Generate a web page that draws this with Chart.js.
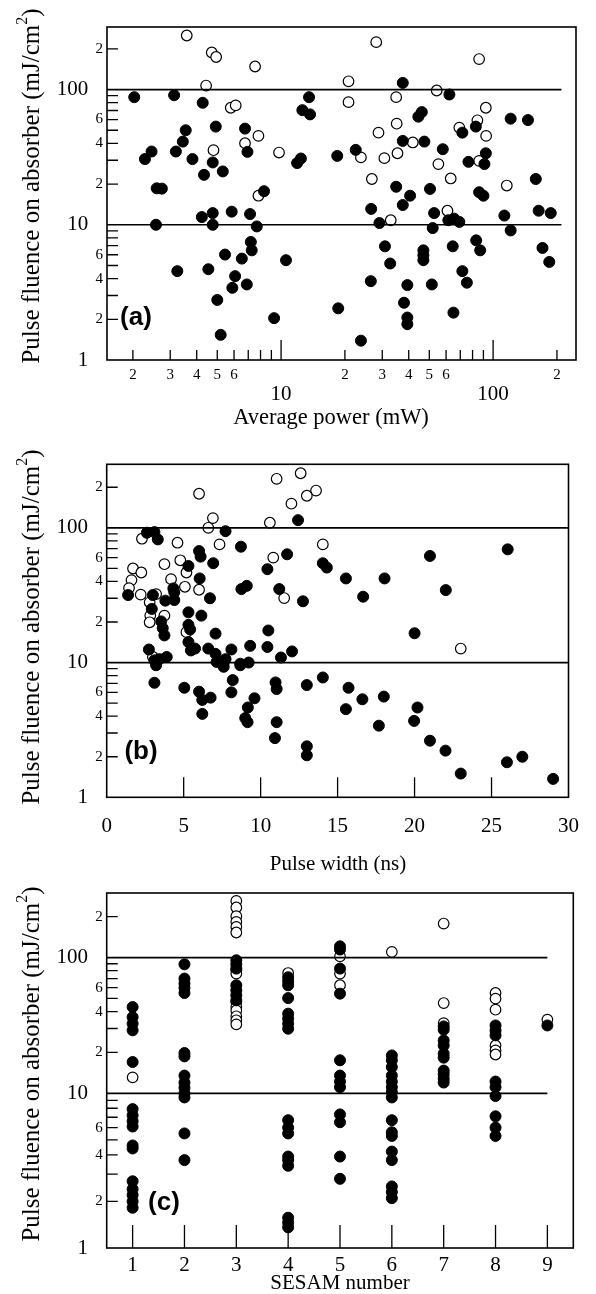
<!DOCTYPE html>
<html><head><meta charset="utf-8">
<script src="https://cdn.jsdelivr.net/npm/chart.js@4.4.1/dist/chart.umd.min.js"></script>
<style>
html,body{margin:0;padding:0;background:#fff;}
body{width:596px;height:1294px;position:relative;overflow:hidden;}
canvas{position:absolute;left:0;}
.lab{position:absolute;font:bold 26px 'Liberation Sans',Arial,sans-serif;color:#000;transform:translate(-50%,-50%);white-space:nowrap;line-height:1;}
.xt{position:absolute;font:21px 'Liberation Serif','Times New Roman',serif;color:#000;transform:translate(-50%,-50%);white-space:nowrap;line-height:1;}
.yt{position:absolute;font:25px 'Liberation Serif','Times New Roman',serif;color:#000;transform:translate(-50%,-50%) rotate(-90deg);white-space:nowrap;line-height:1;}
.yt sup{font-size:16px;vertical-align:0;position:relative;top:-12px;}
</style></head><body>
<canvas id="ca" width="596" height="440" style="top:0;width:596px;height:440px"></canvas>
<canvas id="cb" width="596" height="437" style="top:440px;width:596px;height:437px"></canvas>
<canvas id="cc" width="596" height="424" style="top:870px;width:596px;height:424px"></canvas>
<div class="lab" style="left:136px;top:316px">(a)</div>
<div class="lab" style="left:141px;top:750px">(b)</div>
<div class="lab" style="left:164px;top:1201px">(c)</div>
<div class="xt" style="left:331px;top:417px;font-size:22.5px">Average power (mW)</div>
<div class="xt" style="left:338px;top:863px">Pulse width (ns)</div>
<div class="xt" style="left:340px;top:1282px">SESAM number</div>
<div class="yt" style="left:30px;top:186px">Pulse fluence on absorber (mJ/cm<sup>2</sup>)</div>
<div class="yt" style="left:30px;top:627px">Pulse fluence on absorber (mJ/cm<sup>2</sup>)</div>
<div class="yt" style="left:30px;top:1064px">Pulse fluence on absorber (mJ/cm<sup>2</sup>)</div>
<script>
// ---------- DATA ----------
const yTickValues = [1,2,4,6,10,20,40,60,100,200];
const yTickLabels = ['1','2','4','6','10','2','4','6','100','2'];
const yBigTicks = [1,10,100];
const yMarkValues = [2,3,4,5,6,7,8,9,20,30,40,50,60,70,80,90,200];
const refLevels = [10,100];

// (a) average power (mW)
const powerTickValues = [2,3,4,5,6,10,20,30,40,50,60,100,200];
const powerTickLabels = ['2','3','4','5','6','10','2','3','4','5','6','100','2'];
const powerBigTicks = [10,100];
const powerMarkValues = [2,3,4,5,6,7,8,9,10,20,30,40,50,60,70,80,90,100,200];
const powerFilled = [
 [2.03,87.8],[3.13,90.8],[4.27,79.8],[13.55,87.8],[12.6,70.4],[13.7,65.5],[3.55,50],[4.92,53.2],[6.76,51.4],
 [3.44,41.2],[2.45,34.8],[2.28,30.6],[3.19,34.8],[3.82,30.6],[6.94,34.6],[4.76,28.9],[4.33,23.4],[5.31,24.8],
 [11.9,28.6],[12.4,30.9],[18.4,32.3],[2.59,18.6],[2.74,18.5],[8.31,17.7],
 [37.5,112],[62.2,91.9],[46.1,68.1],[44.4,63.0],[121,60.9],[146,59.5],[82.9,53.2],[71.6,48],[37.5,41.7],
 [47.4,41.2],[22.5,35.8],[57.9,36.2],[92.4,33.8],[76.5,29.2],[91,28.1],[159,21.8],[34.9,19.1],[40.6,16.4],
 [50.4,18.4],[85.9,17.4],[90,16.4],
 [2.57,10],[4.23,11.4],[4.76,12.2],[4.76,10],[5.85,12.5],[7.14,12.0],[7.68,9.72],[7.20,7.46],[7.27,6.47],
 [5.44,6.02],[6.53,5.62],[10.55,5.47],[3.24,4.54],[4.54,4.69],[6.07,4.17],[5.89,3.42],[6.89,3.62],[5.0,2.78],
 [9.27,2.04],[5.19,1.535],[18.6,2.41],
 [26.6,13.1],[37.5,14.0],[29.1,10.3],[52.7,12.2],[51.9,9.45],[61.5,10.8],[65.5,11.1],[69.3,10.5],[113,11.7],
 [121,9.08],[164,12.7],[187,12.2],[30.9,6.93],[32.7,5.17],[46.9,6.47],[46.9,5.95],[46.9,5.47],[64.5,6.93],
 [83.2,7.67],[86.9,6.47],[171,6.74],[184,5.31],[26.5,3.83],[39.4,3.58],[51.4,3.62],[71.6,4.54],[75.2,3.73],
 [38.0,2.65],[39.4,2.06],[39.4,1.84],[65.0,2.24],[23.8,1.39]
];
const powerOpen = [
 [3.59,251],[4.71,188],[4.94,174],[7.54,148],[4.43,107],[5.79,73.3],[6.11,76.3],[4.80,35.6],[6.76,40.1],
 [7.82,45.4],[9.78,34.2],[7.82,16.4],
 [28.1,224],[85.9,168],[20.8,115],[54.2,98.4],[20.8,80.7],[34.9,87.8],[92.4,73.3],[84.3,59.2],[69.3,52.3],
 [92.7,45.4],[35.1,55.9],[28.8,48],[41.8,40.6],[35.4,33.8],[23.8,31.5],[30.7,31.1],[85.9,29.7],[55.2,28.1],
 [63.1,22.0],[26.8,21.8],[116,19.5],[32.9,10.8],[60.9,12.7]
];

// (b) pulse width (ns)
const widthTickValues = [0,5,10,15,20,25,30];
const widthTickLabels = ['0','5','10','15','20','25','30'];
const widthMarkValues = [5,10,15,20,25];
const widthFilled = [
 [12.43,114],[7.72,94.4],[2.61,91.9],[3.1,92.9],[3.32,82.0],[8.72,72.4],[6.0,67.2],[6.1,61.1],[11.72,63.6],
 [6.92,54.6],[5.31,52.1],[14.04,54.6],[14.3,50.7],[10.44,49.3],[6.04,42.1],[9.1,37.1],[8.75,35.1],[11.21,35.1],
 [4.33,35.5],[4.39,33.2],[1.39,31.7],[3.0,31.7],[3.81,28.8],[4.39,29.1],[6.71,30.0],[12.75,28.5],[2.93,25.0],
 [5.31,23.6],[6.15,22.3],[3.54,20.2],[3.64,18.0],[3.75,15.9],[5.31,19.05],[5.42,17.6],[7.07,16.4],[10.5,17.3],
 [2.74,12.5],[5.31,14.2],[5.47,12.3],[5.74,12.7],[6.6,12.7],[8.1,12.5],[9.32,13.3],[10.44,13.05],[12.04,12.1],
 [11.32,10.9],[3.1,10.4],[3.43,10.6],[3.9,11.0],[7.07,11.6],[7.14,10.1],[7.72,10.6],[7.6,10],[8.68,9.8],
 [9.22,10],[3.21,9.55],[7.6,9.3],[8.68,9.55],
 [3.1,7.08],[5.04,6.5],[6.0,6.08],[6.21,5.28],[6.75,5.49],[6.21,4.16],[8.19,7.41],[8.1,6.01],[9.6,5.43],
 [9.17,4.64],[9.0,3.87],[9.15,3.61],[10.97,7.12],[11.04,6.36],[11.04,3.61],[10.93,2.75],[13.0,6.81],[14.04,7.75],
 [13.0,2.39],[13.0,2.05],
 [21.0,61.8],[26.05,69.2],[15.54,42.1],[18.05,42.1],[16.66,30.8],[22.03,34.5],[20.0,16.5],
 [15.71,6.5],[15.54,4.51],[16.61,5.34],[18.0,5.59],[17.68,3.40],[20.19,4.64],[19.97,3.69],[21.0,2.63],
 [22.01,2.22],[23.0,1.50],[26.0,1.82],[27.0,2.0],[29.0,1.37]
];
const widthOpen = [
 [6.0,179],[11.04,231],[12.6,254],[13.6,189],[13.0,173],[12.0,151],[10.6,109],[6.9,118],[6.6,100],[2.29,83],
 [4.6,77.5],[7.33,75.3],[14.04,75.3],[10.82,60.1],[4.78,57.4],[3.75,53.7],[5.18,46.6],[1.71,49.9],[2.25,46.6],
 [1.61,40.9],[1.45,35.7],[4.18,41.6],[5.08,36.5],[6.0,34.7],[2.21,31.9],[3.21,32.2],[2.79,28.0],[11.53,30.1],
 [2.83,22.3],[3.75,22.3],[2.79,19.9],[5.18,16.8],[3.0,11.0],[23.0,12.7]
];

// (c) SESAM number
const sesamTickValues = [1,2,3,4,5,6,7,8,9];
const sesamTickLabels = ['1','2','3','4','5','6','7','8','9'];
const sesamFilled = [
 [1,43.2],[1,36.4],[1,32.6],[1,29.1],[1,17.0],[1,7.9],[1,7.2],[1,6.6],[1,6.1],[1,4.6],[1,4.4],[1,2.7],[1,2.4],[1,2.2],[1,2.0],[1,1.82],
 [2,89.2],[2,70.0],[2,64.3],[2,59.7],[2,54.8],[2,19.8],[2,18.7],[2,13.5],[2,12.0],[2,11.0],[2,10.0],[2,9.4],[2,5.5],[2,3.7],
 [3,95.5],[3,89.2],[3,82.9],[3,62.5],[3,57.4],[3,52.7],[3,48.4],
 [4,71.6],[4,66.8],[4,62.5],[4,50.3],[4,38.6],[4,35.5],[4,32.6],[4,29.9],[4,6.7],[4,6.0],[4,5.5],[4,3.9],[4,3.7],[4,3.4],[4,1.57],[4,1.46],[4,1.36],
 [5,121],[5,114.6],[5,82.9],[5,54.2],[5,17.5],[5,13.5],[5,12.2],[5,11.1],[5,7.3],[5,6.5],[5,3.9],[5,2.8],
 [6,19.0],[6,17.5],[6,15.6],[6,13.5],[6,12.2],[6,11.1],[6,10.2],[6,9.4],[6,6.7],[6,5.6],[6,5.3],[6,4.2],[6,3.7],[6,2.5],[6,2.3],[6,2.1],
 [7,31.1],[7,29.4],[7,24.5],[7,22.5],[7,19.6],[7,18.3],[7,14.7],[7,13.8],[7,12.8],[7,12.0],
 [8,31.6],[8,29.0],[8,26.7],[8,12.2],[8,11.1],[8,9.6],[8,7.1],[8,6.0],[8,5.3],
 [9,31.6]
];
const sesamOpen = [
 [1,13.1],
 [3,261.6],[3,233.9],[3,201.8],[3,183.2],[3,168.3],[3,153],[3,80.6],[3,76.2],[3,47.0],[3,43.2],[3,40.8],[3,36.9],[3,34.5],[3,32.2],
 [4,76.9],
 [5,102],[5,76.2],[5,62.5],
 [6,110],
 [7,178],[7,46.2],[7,32.9],
 [8,54.8],[8,49.8],[8,41.3],[8,22.5],[8,20.7],[8,19.3],
 [9,34.9]
];

// ---------- STYLE / HELPERS ----------
const SERIF = "'Liberation Serif','Times New Roman',serif";
const bigFont = {family: SERIF, size: 21, lineHeight: 1.2};
const smallFont = {family: SERIF, size: 15, lineHeight: 1.2};
const PAD_BIG = '\u2002\u2009';

// log axis whose first decade (1..10) is drawn with a different length than the others (panel c)
class SplitLogScale extends Chart.LogarithmicScale {
  _pos(v) {
    const w = this.options.firstDecadeWeight || 1;
    const lo = Math.log10(this.min), hi = Math.log10(this.max);
    const t = Math.log10(v);
    const f = t <= 1 ? (t - lo) * w : (1 - lo) * w + (t - 1);
    const total = (1 - lo) * w + (hi - 1);
    return f / total;
  }
  getPixelForValue(value) {
    if (value === undefined || value === null || value <= 0) value = this.min;
    return this.getPixelForDecimal(this._pos(value));
  }
  getValueForPixel(pixel) {
    const d = this.getDecimalForPixel(pixel);
    const w = this.options.firstDecadeWeight || 1;
    const lo = Math.log10(this.min), hi = Math.log10(this.max);
    const total = (1 - lo) * w + (hi - 1);
    const f = d * total;
    const first = (1 - lo) * w;
    const t = f <= first ? lo + f / w : 1 + (f - first);
    return Math.pow(10, t);
  }
}
SplitLogScale.id = 'splitLogarithmic';
SplitLogScale.defaults = Chart.LogarithmicScale.defaults;
Chart.register(SplitLogScale);

const toPts = arr => arr.map(([x, y]) => ({x, y}));

const framePlugin = {
  id: 'frame',
  afterDraw(chart, args, o) {
    const {ctx, chartArea: a, scales: {x, y}} = chart;
    ctx.save();
    ctx.strokeStyle = '#000';
    ctx.lineWidth = 1.3;
    ctx.beginPath();
    for (const v of o.yMarks) {
      const p = y.getPixelForValue(v);
      ctx.moveTo(a.left, p); ctx.lineTo(a.left + o.yLen, p);
    }
    for (const v of o.xMarks) {
      const p = x.getPixelForValue(v);
      const len = (o.xLong || []).includes(v) ? o.xLongLen : o.xLen;
      ctx.moveTo(p, a.bottom); ctx.lineTo(p, a.bottom - len);
    }
    ctx.stroke();
    ctx.lineWidth = 1.6;
    ctx.strokeRect(a.left, a.top, a.right - a.left, a.bottom - a.top);
    ctx.restore();
  }
};

function yAxis(chartLeft, ymax, type, weight) {
  return {
    type: type || 'logarithmic', min: 1, max: ymax, firstDecadeWeight: weight || 1,
    afterBuildTicks: s => { s.ticks = yTickValues.map(v => ({value: v})); },
    afterFit: s => { s.width = chartLeft; },
    ticks: {
      autoSkip: false, padding: 4, color: '#000',
      callback: (v, i) => yBigTicks.includes(yTickValues[i]) ? yTickLabels[i] + PAD_BIG : yTickLabels[i],
      font: c => (c.tick && yBigTicks.includes(c.tick.value)) ? bigFont : smallFont
    },
    grid: {display: false, drawTicks: false},
    border: {display: false},
    title: {display: false}
  };
}

function datasets(filled, open, span) {
  const ds = [
    {type: 'scatter', data: toPts(filled), backgroundColor: '#000', borderColor: '#000', borderWidth: 1, pointRadius: 5.5, order: 1},
    {type: 'scatter', data: toPts(open), backgroundColor: '#fff', borderColor: '#000', borderWidth: 1.2, pointRadius: 5.3, order: 2}
  ];
  for (const lv of refLevels) {
    ds.push({type: 'line', data: span.map(x => ({x, y: lv})), borderColor: '#000', borderWidth: 1.7, pointRadius: 0, showLine: true, fill: false, order: 0});
  }
  return ds;
}

function baseOptions(pad, scales, frame) {
  return {
    responsive: false, animation: false, devicePixelRatio: 1,
    layout: {padding: pad},
    plugins: {legend: {display: false}, tooltip: {enabled: false}, frame},
    scales
  };
}

// ---------- (a) ----------
new Chart(document.getElementById('ca'), {
  type: 'scatter',
  data: {datasets: datasets(powerFilled, powerOpen, [1.51, 210])},
  plugins: [framePlugin],
  options: baseOptions({top: 27, right: 20, left: 0, bottom: 0}, {
    x: {
      type: 'logarithmic', min: 1.51, max: 246,
      afterBuildTicks: s => { s.ticks = powerTickValues.map(v => ({value: v})); },
      afterFit: s => { s.height = 440 - 360; },
      ticks: {
        autoSkip: false, maxRotation: 0, minRotation: 0, padding: 6, color: '#000',
        callback: (v, i) => powerBigTicks.includes(powerTickValues[i]) ? ['', powerTickLabels[i]] : powerTickLabels[i],
        font: c => (c.tick && powerBigTicks.includes(c.tick.value)) ? {family: SERIF, size: 21, lineHeight: 0.92} : smallFont
      },
      grid: {display: false, drawTicks: false},
      border: {display: false},
      title: {display: false}
    },
    y: yAxis(107, 290)
  }, {yMarks: yMarkValues, yLen: 11, xMarks: powerMarkValues, xLen: 10, xLong: powerBigTicks, xLongLen: 20})
});

// ---------- (b) ----------
new Chart(document.getElementById('cb'), {
  type: 'scatter',
  data: {datasets: datasets(widthFilled, widthOpen, [0, 30])},
  plugins: [framePlugin],
  options: baseOptions({top: 24.3, right: 22.7, left: 0, bottom: 0}, {
    x: {
      type: 'linear', min: 0, max: 30,
      afterBuildTicks: s => { s.ticks = widthTickValues.map(v => ({value: v})); },
      afterFit: s => { s.height = 437 - 357.3; },
      ticks: {
        autoSkip: false, maxRotation: 0, minRotation: 0, padding: 17, color: '#000',
        callback: (v, i) => widthTickLabels[i], font: bigFont
      },
      grid: {display: false, drawTicks: false},
      border: {display: false},
      title: {display: false}
    },
    y: yAxis(106.7, 296)
  }, {yMarks: yMarkValues, yLen: 11, xMarks: widthMarkValues, xLen: 20})
});

// ---------- (c) ----------
new Chart(document.getElementById('cc'), {
  type: 'scatter',
  data: {datasets: datasets(sesamFilled, sesamOpen, [0.5, 9])},
  plugins: [framePlugin],
  options: baseOptions({top: 23, right: 22.7, left: 0, bottom: 0}, {
    x: {
      type: 'linear', min: 0.5, max: 9.5,
      afterBuildTicks: s => { s.ticks = sesamTickValues.map(v => ({value: v})); },
      afterFit: s => { s.height = 424 - 378; },
      ticks: {
        autoSkip: false, maxRotation: 0, minRotation: 0, padding: 5, color: '#000',
        callback: (v, i) => sesamTickLabels[i], font: bigFont
      },
      grid: {display: false, drawTicks: false},
      border: {display: false},
      title: {display: false}
    },
    y: yAxis(106.7, 299, 'splitLogarithmic', 1.14)
  }, {yMarks: yMarkValues.filter(v => v < 299), yLen: 11, xMarks: sesamTickValues, xLen: 23})
});
</script>
</body></html>
